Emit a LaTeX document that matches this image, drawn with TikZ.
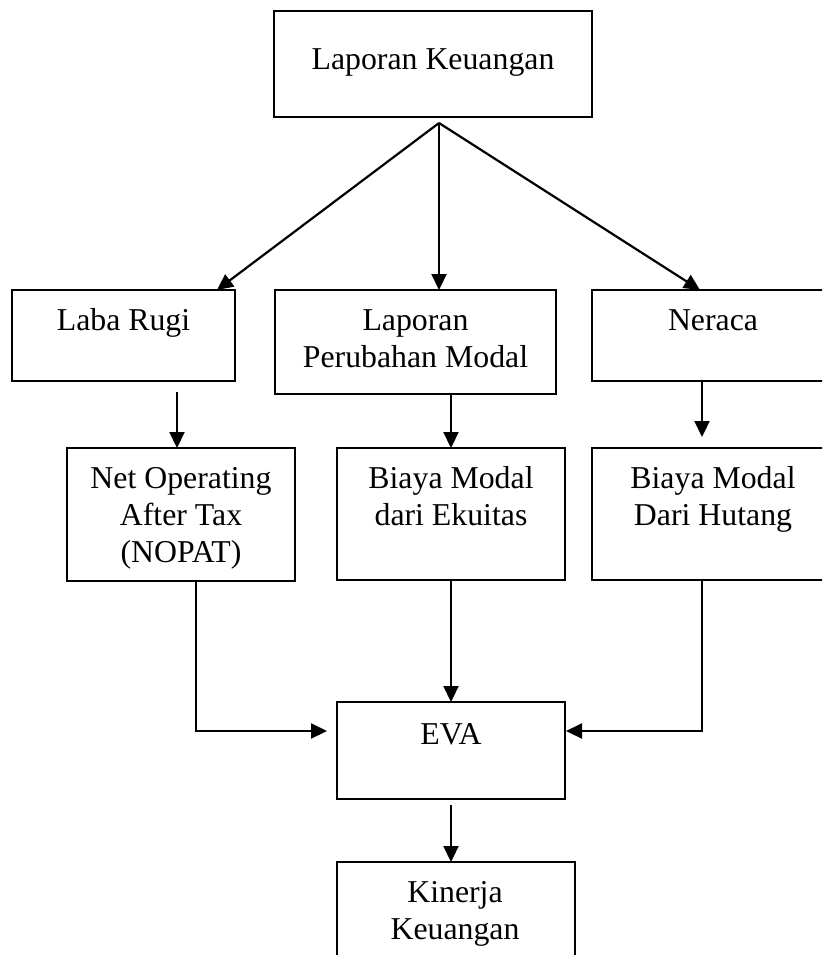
\documentclass[tikz,border=0pt]{standalone}
\usepackage{fontspec}
\setmainfont{Liberation Serif}
\usetikzlibrary{arrows.meta,calc}
\newcommand{\tstrut}{\rule{0pt}{26pt}}
\begin{document}
\begin{tikzpicture}[x=1pt,y=-1pt,
  box/.style={draw, line width=2.2pt, inner sep=0pt, outer sep=0pt, anchor=north west},
  txt/.style={anchor=north, inner sep=0pt, align=center, font=\fontsize{31.8}{37}\selectfont},
  arr/.style={line width=2.2pt, -{Triangle[length=16pt,width=15pt]}, line join=miter}]
\useasboundingbox (0,0) rectangle (822,955);
\clip (0,0) rectangle (822,955);
% boxes
\node[box, minimum width=318pt, minimum height=106pt] (top) at (274,11) {};
\node[box, minimum width=223pt, minimum height=91pt] (laba) at (12,290) {};
\node[box, minimum width=281pt, minimum height=104pt] (lpm) at (275,290) {};
\node[box, minimum width=241pt, minimum height=91pt] (neraca) at (592,290) {};
\node[box, minimum width=228pt, minimum height=133pt] (nopat) at (67,448) {};
\node[box, minimum width=228pt, minimum height=132pt] (ekuitas) at (337,448) {};
\node[box, minimum width=241pt, minimum height=132pt] (hutang) at (592,448) {};
\node[box, minimum width=228pt, minimum height=97pt] (eva) at (337,702) {};
\node[box, minimum width=238pt, minimum height=140pt] (kinerja) at (337,862) {};
% texts
\node[txt] (tTop) at ($(top.north)+(0,32)$) {\tstrut Laporan Keuangan};
\node[txt] (tLaba) at ($(laba.north)+(0,14)$) {\tstrut Laba Rugi};
\node[txt] (tLpm) at ($(lpm.north)+(0,14)$) {\tstrut Laporan\\Perubahan Modal};
\node[txt] (tNeraca) at ($(neraca.north west)+(121,14)$) {\tstrut Neraca};
\node[txt] (tNopat) at ($(nopat.north)+(0,14)$) {\tstrut Net Operating\\After Tax\\(NOPAT)};
\node[txt] (tEkuitas) at ($(ekuitas.north)+(0,14)$) {\tstrut Biaya Modal\\dari Ekuitas};
\node[txt] (tHutang) at ($(hutang.north west)+(121,14)$) {\tstrut Biaya Modal\\Dari Hutang};
\node[txt] (tEva) at ($(eva.north)+(0,16)$) {\tstrut EVA};
\node[txt] (tKinerja) at ($(kinerja.north)+(-1,14)$) {\tstrut Kinerja\\Keuangan};
% connectors
\coordinate (apex) at (439,123);
\draw[arr] (apex) -- ($(laba.north west)+(205,0)$);
\draw[arr] (apex) -- (apex |- lpm.north);
\draw[arr] (apex) -- ($(neraca.north west)+(108,0)$);
\draw[arr] ($(laba.south west)+(165,11)$) -- ($(nopat.north west)+(110,0)$);
\draw[arr] (ekuitas.north |- lpm.south) -- (ekuitas.north);
\draw[arr] ($(neraca.south west)+(110,0)$) -- ($(hutang.north west)+(110,-11)$);
\draw[arr] ($(nopat.south west)+(129,0)$) |- ($(eva.north west)+(-10,29)$);
\draw[arr] (ekuitas.south) -- (eva.north);
\draw[arr] ($(hutang.south west)+(110,0)$) |- ($(eva.north east)+(1,29)$);
\draw[arr] ($(eva.south)+(0,6)$) -- (kinerja.north -| eva.south);
\end{tikzpicture}
\end{document}
